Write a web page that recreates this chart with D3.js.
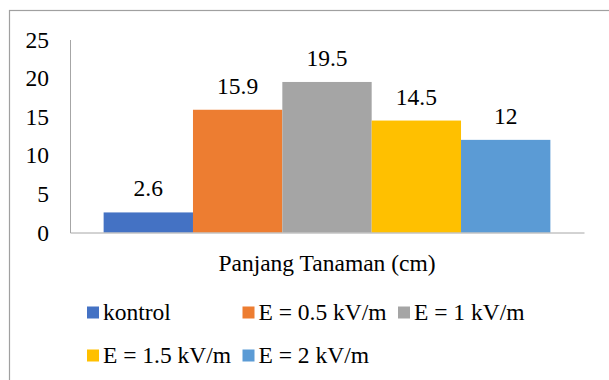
<!DOCTYPE html>
<html>
<head>
<meta charset="utf-8">
<script src="https://cdn.jsdelivr.net/npm/d3@7"></script>
<style>
  body { margin: 0; background: #fff; }
</style>
</head>
<body>
<div id="chart"></div>
<script>
const categories = ["Panjang Tanaman (cm)"];
const seriesNames = ["kontrol", "E = 0.5 kV/m", "E = 1 kV/m", "E = 1.5 kV/m", "E = 2 kV/m"];
const seriesValues = [2.6, 15.9, 19.5, 14.5, 12];
const seriesColors = ["#4472c4", "#ed7d31", "#a5a5a5", "#ffc000", "#5b9bd5"];
const yTicks = [0, 5, 10, 15, 20, 25];

const width = 609, height = 380;
const plot = { left: 70, right: 584, top: 39.5, bottom: 232.5 };
const font = "Liberation Serif";
const fontSize = "23.5px";

const svg = d3.select("#chart")
  .append("svg")
  .attr("width", width)
  .attr("height", height);

// chart area border (cut off on the right and bottom in the original)
svg.append("rect")
  .attr("x", 9.5)
  .attr("y", 10.5)
  .attr("width", 700)
  .attr("height", 500)
  .attr("fill", "none")
  .attr("stroke", "#a0a0a0")
  .attr("stroke-width", 1.2);

const y = d3.scaleLinear()
  .domain([0, 25])
  .range([plot.bottom, plot.top]);

const x0 = d3.scaleBand()
  .domain(categories)
  .range([plot.left, plot.right])
  .padding(0.07);

const x1 = d3.scaleBand()
  .domain(seriesNames)
  .range([0, x0.bandwidth()])
  .padding(0);

const yAxis = svg.append("g")
  .attr("transform", `translate(${plot.left},0)`)
  .call(d3.axisLeft(y).tickValues(yTicks).tickSize(0).tickPadding(21));
yAxis.select(".domain").attr("stroke", "#a6a6a6");
yAxis.selectAll("text")
  .attr("font-family", font)
  .style("font-size", fontSize)
  .attr("fill", "#000");

const data = seriesNames.map((s, i) => ({ name: s, value: seriesValues[i], color: seriesColors[i], cat: categories[0] }));

svg.selectAll(".bar")
  .data(data)
  .join("rect")
  .attr("class", "bar")
  .attr("x", d => x0(d.cat) + x1(d.name))
  .attr("y", d => y(d.value))
  .attr("width", x1.bandwidth())
  .attr("height", d => y(0) - y(d.value))
  .attr("fill", d => d.color);

svg.selectAll(".lbl")
  .data(data)
  .join("text")
  .attr("class", "lbl")
  .attr("x", d => x0(d.cat) + x1(d.name) + x1.bandwidth() / 2)
  .attr("y", d => y(d.value) - 16)
  .attr("text-anchor", "middle")
  .attr("font-family", font)
  .style("font-size", fontSize)
  .text(d => d.value);

const xAxis = svg.append("g")
  .attr("transform", `translate(0,${plot.bottom})`)
  .call(d3.axisBottom(x0).tickSize(0).tickPadding(22));
xAxis.select(".domain").attr("stroke", "#a6a6a6");
xAxis.selectAll("text")
  .attr("font-family", font)
  .style("font-size", fontSize)
  .attr("fill", "#000");

// legend, two rows of fixed-width columns
const legend = svg.append("g");
const item = legend.selectAll(".leg")
  .data(data)
  .join("g")
  .attr("class", "leg")
  .attr("transform", (d, i) => `translate(${87 + (i % 3) * 155.5},${i < 3 ? 312.5 : 355.5})`);

item.append("rect")
  .attr("x", 0)
  .attr("y", -6)
  .attr("width", 12)
  .attr("height", 12)
  .attr("fill", d => d.color);

item.append("text")
  .attr("x", 16)
  .attr("y", 7.5)
  .attr("font-family", font)
  .style("font-size", fontSize)
  .text(d => d.name);
</script>
</body>
</html>
